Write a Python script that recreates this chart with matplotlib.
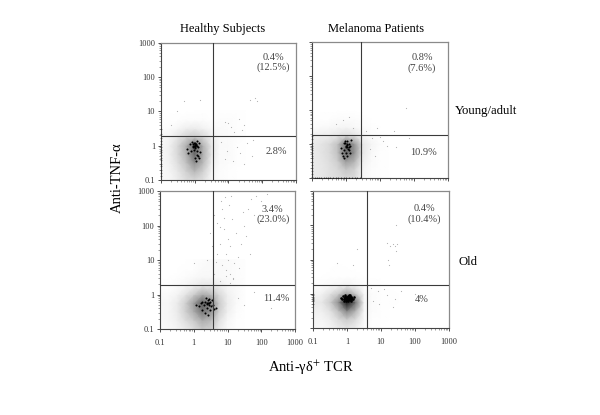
import numpy as np
import matplotlib
matplotlib.use('Agg')
from matplotlib import pyplot as plt
from matplotlib.ticker import NullFormatter, LogLocator, FixedLocator, FixedFormatter

plt.rcParams['font.family'] = ['Liberation Serif', 'DejaVu Sans']

grid_x = [0.1, 0.18, 0.32, 0.56, 1, 1.8, 3.2, 5.6, 10, 18, 32]
grid_y = [0.1, 0.18, 0.32, 0.56, 1, 1.8, 3.2, 5.6, 10]

# darkness read by eye, rows go from y=0.1 upwards
dens_hy = [[.03, .05, .12, .20, .24, .18, .05, .02, .01, 0, 0],
           [.03, .06, .15, .28, .42, .28, .07, .02, .01, 0, 0],
           [.04, .08, .20, .36, .60, .40, .10, .03, .02, .01, 0],
           [.04, .09, .24, .44, .76, .46, .14, .03, .03, .01, 0],
           [.04, .09, .24, .46, .76, .44, .14, .04, .03, .01, 0],
           [.03, .06, .16, .26, .32, .24, .10, .04, .03, .02, .01],
           [.01, .02, .05, .10, .12, .08, .04, .03, .02, .01, .01],
           [0, .01, .01, .02, .02, .02, .01, .02, .02, .01, .01],
           [0, 0, 0, 0, 0, .01, 0, .01, .01, .01, 0]]
dens_mel = [[.12, .14, .18, .20, .24, .22, .05, .02, .01, 0, 0],
            [.12, .14, .18, .24, .34, .28, .06, .02, .01, 0, 0],
            [.12, .15, .20, .30, .56, .44, .10, .03, .01, 0, 0],
            [.12, .16, .22, .36, .76, .58, .14, .04, .01, 0, 0],
            [.12, .16, .22, .36, .72, .56, .14, .06, .02, 0, 0],
            [.10, .10, .11, .15, .20, .16, .06, .02, .01, 0, 0],
            [.01, .03, .04, .05, .06, .04, .02, .01, 0, 0, 0],
            [0, .01, .01, .02, .02, .02, .01, 0, 0, 0, 0],
            [0, 0, 0, 0, 0, 0, 0, 0, 0, 0, 0]]
dens_hyo = [[.02, .04, .07, .12, .20, .32, .28, .12, .03, .01, 0],
            [.03, .05, .10, .20, .32, .48, .40, .18, .05, .01, 0],
            [.04, .05, .12, .28, .48, .70, .58, .28, .09, .02, 0],
            [.05, .05, .12, .28, .54, .78, .64, .32, .11, .03, .01],
            [.03, .03, .07, .16, .30, .48, .40, .24, .09, .04, .01],
            [.01, .01, .03, .05, .09, .15, .15, .11, .05, .03, .01],
            [0, 0, .01, .02, .03, .05, .05, .04, .03, .02, .01],
            [0, 0, 0, .01, .01, .03, .04, .04, .03, .02, .01],
            [0, 0, 0, 0, .01, .02, .04, .04, .03, .02, .01]]
dens_old = [[.05, .04, .07, .12, .16, .10, .02, .01, 0, 0, 0],
            [.07, .06, .11, .22, .32, .22, .04, .01, .01, 0, 0],
            [.10, .09, .18, .38, .66, .44, .05, .02, .01, 0, 0],
            [.14, .14, .30, .60, 1.0, .70, .07, .02, .01, .01, 0],
            [.08, .08, .18, .32, .54, .34, .05, .02, .01, .01, 0],
            [.02, .02, .03, .05, .07, .04, .02, .01, .01, 0, 0],
            [0, 0, .01, .01, .01, .01, 0, 0, 0, 0, 0],
            [0, 0, 0, .01, 0, 0, 0, 0, 0, 0, 0],
            [0, 0, 0, 0, 0, 0, 0, 0, 0, 0, 0]]

# dark dots in the core of each cloud
core_hy_x = [.75, .8, .85, .9, .95, 1, 1.05, 1.1, 1.15, 1.2, 1.3, 1.4, 1.5, .6, .65, 1.0, 1.1, 1.25, .95, 1.35, 1.05, .9, 1.2, 1.0, 1.05, .95, 1.1, .9, 1.0, 1.15]
core_hy_y = [1.1, .7, 1.3, .9, 1.2, 1.05, .85, 1.15, .7, .55, .9, 1.2, .65, .8, .6, .45, .35, .5, .75, .45, 1.0, 1.0, 1.35, 1.1, 1.2, 1.0, 1.05, 1.15, .9, .95]
core_mel_x = [.7, .75, .85, .9, .95, 1, 1.05, 1.1, 1.15, 1.2, 1.3, 1.4, .8, .9, 1.0, 1.1, 1.25, .95, 1.35, 1.05, 1.0, 1.1, 1.2]
core_mel_y = [.75, .55, 1.05, .65, 1.2, .9, .8, 1.25, .7, 1.0, .9, 1.3, .45, .4, .55, .45, .65, 1.1, .55, 1.0, .85, .95, .85]
core_hyo_x = [1.2, 1.4, 1.6, 1.8, 2, 2.2, 2.4, 2.6, 2.8, 3, 3.3, 3.6, 4, 4.5, 1.7, 2.1, 2.5, 2.9, 3.4, 2.3, 2.7, 3.1, 2.4, 2.6, 2.8]
core_hyo_y = [.5, .45, .55, .35, .5, .6, .4, .7, .55, .6, .45, .5, .38, .4, .6, .3, .55, .75, .7, .8, .25, .35, .52, .58, .48]
core_old_x = [.65, .7, .75, .8, .85, .9, .95, 1, 1.05, 1.1, 1.15, 1.2, 1.25, 1.3, 1.35, 1.4, 1.5, 1.6, .8, .9, 1, 1.1, 1.2, 1.3, .85, .95, 1.05, 1.15, 1.25, 1.35, .9, 1, 1.1, 1.2, 1.3, .95, 1.05, 1.15, 1.25, .85]
core_old_y = [.75, .68, .85, .62, .8, .9, .6, .72, .88, .6, .8, .7, .9, .62, .78, .68, .72, .8, .72, .75, .65, .72, .65, .8, .68, .82, .78, .92, .75, .7, .8, .78, .72, .76, .74, .7, .68, .7, .82, .74]

# faint scattered events outside the clouds
sparse_hy_x = [.3, .5, 1.5, .2, 8, 12, 20, 30, 45, 60, 70, 15, 25, 6, 9, 35, 18, 50, 8, 14, 30, 55, 22, 10]
sparse_hy_y = [10, 20, 22, 4, 5, 3.5, 6, 4, 22, 25, 20, 2.5, 2.8, 1.3, .7, 1.2, .9, .5, .4, .35, .3, 1.5, .6, 4.5]
sparse_mel_x = [.5, .8, 1.2, 1.6, 4, 6, 8, 12, 16, 30, 60, 70, 5, 7, 10, 25]
sparse_mel_y = [4, 5, 6.5, 3, 2.5, 1.5, 3, 1.2, .9, .8, 12, 1.5, .7, .45, 1.6, 2.5]
sparse_hyo_x = [3, 4, 5, 6, 7, 8, 9, 10, 12, 14, 16, 18, 20, 25, 30, 40, 50, 70, 100, 5, 7, 9, 11, 13, 6, 8, 10, 12, 15, 3.5, 4.5, 6.5, 8.5, 22, 28, 35, 45, 60, 150, 2.5, 1, 4, 20, 30, 60, 200, 6, 15, 9, 12]
sparse_hyo_y = [60, 200, 120, 30, 300, 80, 15, 40, 25, 150, 8, 60, 12, 30, 100, 300, 600, 700, 500, 15, 7, 5, 400, 700, 90, 170, 10, 4, 3, 25, 9, 500, 650, 6, 250, 50, 15, 200, 800, 10, 8, 4, .8, .5, 1.2, .4, 2.4, 2.8, 3.5, 2.2]
sparse_old_x = [.5, 1.5, 2, 15, 18, 22, 25, 28, 30, 16, 17, 28, 8, 12, 25, 40, 9, 15, 6, 22, 100, 5]
sparse_old_y = [8, 7, 20, 30, 25, 28, 25, 100, 28, 10, 7, 18, 1.2, 1.4, .7, 1.2, .5, .9, .6, .4, 1.0, 1.5]

# stacked events on the low edge of the scale
edge_hy_y = [.13, .16, .2, .25, .3, .38, .45, .55, .65, .75, .9, 1.1, 1.4, 1.7, 2.2, 3]
edge_mel_y = [.11, .13, .16, .2, .25, .3, .38, .45, .55, .65, .75, .9, 1.1, 1.4, 1.7]
edge_old_y = [.5, .6, .65, .7, .75, .8, .9, 1.0]
edge_mel_x = [.12, .14, .16, .19, .22, .26, .3, .35, .42, .5, .6, .7, .85, 1, 1.2, 1.5, 1.8, 2.1, 2.5]

gate_x = [3.5, 2.76, 3.7, 3.9]
gate_y = [1.9, 1.84, 1.88, 1.8]
densities = [dens_hy, dens_mel, dens_hyo, dens_old]
core_x = [core_hy_x, core_mel_x, core_hyo_x, core_old_x]
core_y = [core_hy_y, core_mel_y, core_hyo_y, core_old_y]
sparse_x = [sparse_hy_x, sparse_mel_x, sparse_hyo_x, sparse_old_x]
sparse_y = [sparse_hy_y, sparse_mel_y, sparse_hyo_y, sparse_old_y]
edge_y = [edge_hy_y, edge_mel_y, [], edge_old_y]
upper_pct = ['0.4%\n(12.5%)', '0.8%\n(7.6%)', '3.4%\n(23.0%)', '0.4%\n(10.4%)']
lower_pct = ['2.8%', '10.9%', '11.4%', '4%']
pct_pos = [(0.83, 0.855, 0.855, 0.205), (0.81, 0.85, 0.82, 0.19),
           (0.835, 0.83, 0.865, 0.22), (0.82, 0.83, 0.80, 0.21)]
core_size = [2.2, 2.2, 2.2, 3.4]
boxes = [(160.7, 42.7, 296, 180), (312, 42.5, 448, 178), (160, 191, 295, 329), (313, 191, 449, 328)]
ticks = [0.1, 1, 10, 100, 1000]
tick_labels = ['0.1', '1', '10', '100', '1000']

W, H = 600, 415
fig = plt.figure(figsize=(W / 100, H / 100), dpi=100)
cmap = matplotlib.colors.LinearSegmentedColormap.from_list(
    'd', [(0, '#ffffff'), (.25, '#d6d6d6'), (.5, '#a8a8a8'), (.75, '#6a6a6a'), (1, '#111111')])

for i in range(4):
    x0, y0, x1, y1 = boxes[i]
    ax = fig.add_axes([x0 / W, 1 - y1 / H, (x1 - x0) / W, (y1 - y0) / H])
    ax.set_xscale('log')
    ax.set_yscale('log')
    ax.pcolormesh(grid_x, grid_y, np.array(densities[i]), cmap=cmap, vmin=0, vmax=1, shading='gouraud', zorder=1)
    ax.scatter(sparse_x[i], sparse_y[i], s=0.7, c='#b0b0b0', linewidths=0, zorder=2)
    ax.scatter(core_x[i], core_y[i], s=core_size[i], c='#000000', linewidths=0, zorder=3)
    if edge_y[i]:
        ax.scatter([0.103] * len(edge_y[i]), edge_y[i], s=1.3, c='#333333', linewidths=0, zorder=3, clip_on=False)
    if i == 1:
        ax.scatter(edge_mel_x, [0.103] * len(edge_mel_x), s=1.6, c='#222222', linewidths=0, zorder=3)
    ax.axvline(gate_x[i], color='#3a3a3a', lw=0.8, zorder=4)
    ax.axhline(gate_y[i], color='#3a3a3a', lw=0.8, zorder=4)
    ax.set_xlim(0.1, 1000)
    ax.set_ylim(0.1, 1000)
    for s in ['top', 'right']:
        ax.spines[s].set_color('#8a8a8a')
        ax.spines[s].set_linewidth(0.9)
    for s in ['left', 'bottom']:
        ax.spines[s].set_color('#444444')
        ax.spines[s].set_linewidth(0.8)
    for a in [ax.xaxis, ax.yaxis]:
        a.set_major_locator(FixedLocator(ticks))
        a.set_minor_locator(LogLocator(base=10, subs=np.arange(2, 10), numticks=10))
        a.set_minor_formatter(NullFormatter())
    ax.tick_params(which='major', direction='out', length=2.5, width=0.6, color='#333333', labelsize=6, pad=1.5, labelcolor='#333333')
    ax.tick_params(which='minor', direction='out', length=1.5, width=0.4, color='#555555')
    if i in (0, 2):
        ax.yaxis.set_major_formatter(FixedFormatter(tick_labels))
    else:
        ax.yaxis.set_major_formatter(NullFormatter())
    if i in (2, 3):
        ax.xaxis.set_major_formatter(FixedFormatter(tick_labels))
        ax.tick_params(axis='x', which='major', pad=5)
    else:
        ax.xaxis.set_major_formatter(NullFormatter())
    px, py, qx, qy = pct_pos[i]
    ax.text(px, py, upper_pct[i], transform=ax.transAxes, fontsize=7.5, color='#444444', ha='center', va='center', linespacing=1.15, zorder=5)
    ax.text(qx, qy, lower_pct[i], transform=ax.transAxes, fontsize=7.5, color='#444444', ha='center', va='center', zorder=5)

fig.text(223 / W, 1 - 29 / H, 'Healthy Subjects', fontsize=9, ha='center', va='center')
fig.text(376 / W, 1 - 29 / H, 'Melanoma Patients', fontsize=9, ha='center', va='center')
fig.text(486 / W, 1 - 111 / H, 'Young/adult', fontsize=9.2, ha='center', va='center')
fig.text(468 / W, 1 - 262 / H, 'Old', fontsize=9.2, ha='center', va='center')
fig.text(117 / W, 1 - 178 / H, 'Anti-TNF-α', fontsize=10.5, rotation=90, ha='center', va='center')
fig.text(311 / W, 1 - 368 / H, 'Anti-γδ$^{+}$ TCR', fontsize=10.5, ha='center', va='center', math_fontfamily='stix')

fig.savefig('out.png', dpi=100)
